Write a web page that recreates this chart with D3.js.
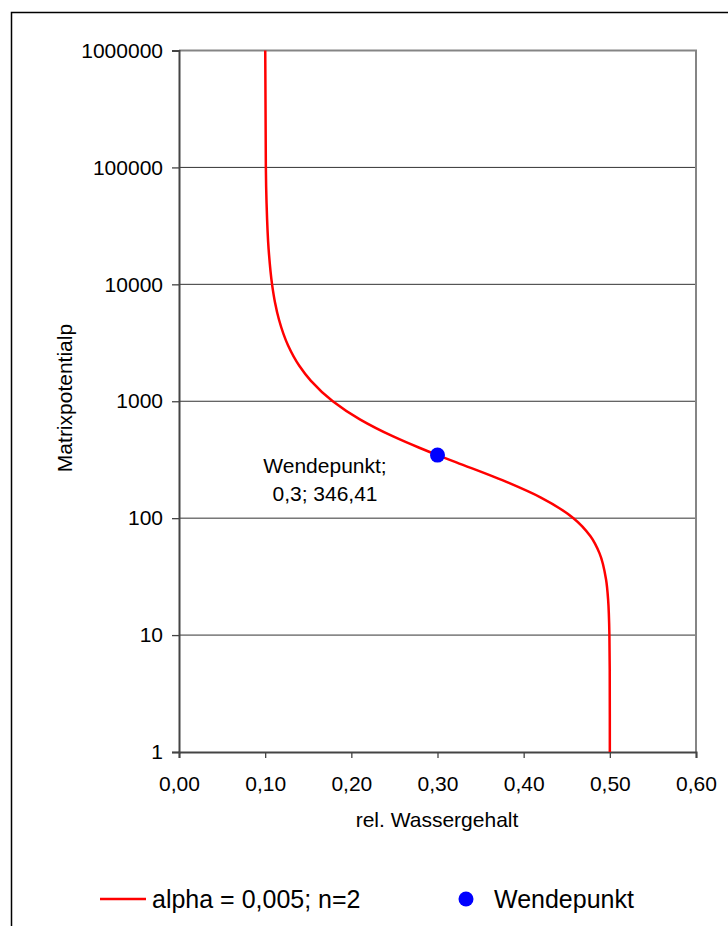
<!DOCTYPE html>
<html>
<head>
<meta charset="utf-8">
<script src="https://cdn.jsdelivr.net/npm/d3@7"></script>
<style>
  body { margin: 0; background: #fff; }
  svg { display: block; font-family: "Liberation Sans", Arial, sans-serif; }
</style>
</head>
<body>
<svg id="chart" width="728" height="926"></svg>
<script>
// Retention curve points (water content, matric potential)
var potential = [1, 2, 5, 10, 20, 30, 50, 70, 100, 150, 200, 300, 346.41, 400, 500, 700,
                 1000, 1500, 2000, 3000, 5000, 7000, 10000, 20000, 50000, 100000, 1000000];
var waterContent = [0.5, 0.49998, 0.49988, 0.4995, 0.49802, 0.49557, 0.48806, 0.47754, 0.45777,
                    0.42, 0.38284, 0.32188, 0.3, 0.27889, 0.24856, 0.20989, 0.17845, 0.15287,
                    0.1398, 0.12661, 0.11599, 0.11143, 0.108, 0.104, 0.1016, 0.1008, 0.10008];
var turnPoint = [0.3, 346.41];
var xTicks = [0, 0.1, 0.2, 0.3, 0.4, 0.5, 0.6];
var yTicks = [1, 10, 100, 1000, 10000, 100000, 1000000];

var svg = d3.select("#chart");
var plotLeft = 179, plotRight = 696, plotTop = 50.5, plotBottom = 752;

var x = d3.scaleLinear().domain([0, 0.6]).range([plotLeft, plotRight]);
var y = d3.scaleLog().domain([1, 1000000]).range([plotBottom, plotTop]);

// outer frame (open on the right and bottom)
svg.append("path")
    .attr("d", "M11.5,926 V12.5 H728")
    .attr("fill", "none")
    .attr("stroke", "#000")
    .attr("stroke-width", 1.5);

// grid lines
svg.append("g")
    .selectAll("line")
    .data(yTicks.slice(1, -1))
    .enter().append("line")
    .attr("x1", plotLeft).attr("x2", plotRight)
    .attr("y1", function(d) { return y(d); })
    .attr("y2", function(d) { return y(d); })
    .attr("stroke", "#333")
    .attr("stroke-width", 1);

// plot border top / right
svg.append("path")
    .attr("d", "M" + plotLeft + "," + plotTop + " H" + plotRight + " V" + plotBottom)
    .attr("fill", "none")
    .attr("stroke", "#858585")
    .attr("stroke-width", 2);

// y axis
var yAxis = svg.append("g")
    .attr("transform", "translate(" + plotLeft + ",0)")
    .call(d3.axisLeft(y).tickValues(yTicks).tickFormat(d3.format("d")).tickSize(7).tickPadding(9));
// x axis
var xAxis = svg.append("g")
    .attr("transform", "translate(0," + plotBottom + ")")
    .call(d3.axisBottom(x).tickValues(xTicks)
        .tickFormat(function(d) { return d3.format(".2f")(d).replace(".", ","); })
        .tickSize(6).tickPadding(18));

[yAxis, xAxis].forEach(function(a) {
    a.select(".domain").attr("stroke", "#444").attr("stroke-width", 2);
    a.selectAll(".tick line").attr("stroke", "#444").attr("stroke-width", 1.3);
    a.selectAll(".tick text")
        .attr("fill", "#000")
        .style("font-size", "21px")
        .style("font-family", "'Liberation Sans', Arial, sans-serif");
});

// axis titles
svg.append("text")
    .attr("x", 437).attr("y", 827)
    .attr("text-anchor", "middle")
    .style("font-size", "21px")
    .text("rel. Wassergehalt");

svg.append("text")
    .attr("transform", "translate(72,398) rotate(-90)")
    .attr("text-anchor", "middle")
    .style("font-size", "21px")
    .text("Matrixpotentialp");

// curve
var line = d3.line()
    .x(function(d, i) { return x(waterContent[i]); })
    .y(function(d) { return y(d); })
    .curve(d3.curveMonotoneY);

svg.append("path")
    .datum(potential)
    .attr("d", line)
    .attr("fill", "none")
    .attr("stroke", "#ff0000")
    .attr("stroke-width", 2.5);

// turning point
svg.append("circle")
    .attr("cx", x(turnPoint[0]))
    .attr("cy", y(turnPoint[1]))
    .attr("r", 7.5)
    .attr("fill", "#0000ff");

var lab = svg.append("text")
    .attr("text-anchor", "middle")
    .style("font-size", "21px");
lab.append("tspan").attr("x", 325).attr("y", 473).text("Wendepunkt;");
lab.append("tspan").attr("x", 325).attr("y", 501).text("0,3; 346,41");

// legend
svg.append("line")
    .attr("x1", 100).attr("x2", 146)
    .attr("y1", 899).attr("y2", 899)
    .attr("stroke", "#ff0000")
    .attr("stroke-width", 2.5);
svg.append("text")
    .attr("x", 152).attr("y", 908)
    .style("font-size", "25px")
    .text("alpha = 0,005; n=2");
svg.append("circle")
    .attr("cx", 466).attr("cy", 899)
    .attr("r", 7.5)
    .attr("fill", "#0000ff");
svg.append("text")
    .attr("x", 494).attr("y", 908)
    .style("font-size", "25px")
    .text("Wendepunkt");
</script>
</body>
</html>
